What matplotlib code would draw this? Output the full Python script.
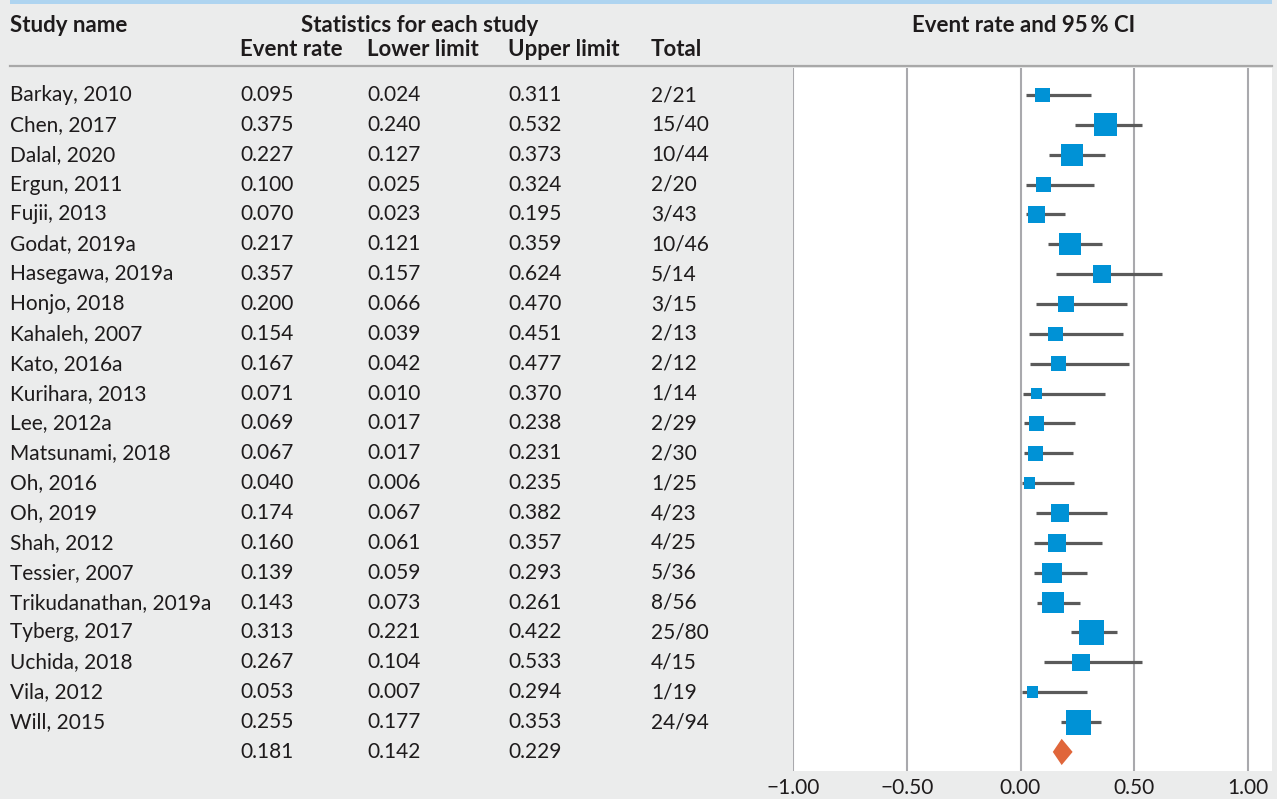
import matplotlib
matplotlib.use("Agg")
import matplotlib.pyplot as plt
import matplotlib.transforms as mtransforms
from matplotlib.patches import Polygon, Rectangle
import numpy as np

studies = ["Barkay, 2010", "Chen, 2017", "Dalal, 2020", "Ergun, 2011", "Fujii, 2013",
           "Godat, 2019a", "Hasegawa, 2019a", "Honjo, 2018", "Kahaleh, 2007", "Kato, 2016a",
           "Kurihara, 2013", "Lee, 2012a", "Matsunami, 2018", "Oh, 2016", "Oh, 2019",
           "Shah, 2012", "Tessier, 2007", "Trikudanathan, 2019a", "Tyberg, 2017",
           "Uchida, 2018", "Vila, 2012", "Will, 2015"]
event_rate = [0.095, 0.375, 0.227, 0.100, 0.070, 0.217, 0.357, 0.200, 0.154, 0.167,
              0.071, 0.069, 0.067, 0.040, 0.174, 0.160, 0.139, 0.143, 0.313, 0.267,
              0.053, 0.255]
lower = [0.024, 0.240, 0.127, 0.025, 0.023, 0.121, 0.157, 0.066, 0.039, 0.042,
         0.010, 0.017, 0.017, 0.006, 0.067, 0.061, 0.059, 0.073, 0.221, 0.104,
         0.007, 0.177]
upper = [0.311, 0.532, 0.373, 0.324, 0.195, 0.359, 0.624, 0.470, 0.451, 0.477,
         0.370, 0.238, 0.231, 0.235, 0.382, 0.357, 0.293, 0.261, 0.422, 0.533,
         0.294, 0.353]
events = [2, 15, 10, 2, 3, 10, 5, 3, 2, 2, 1, 2, 2, 1, 4, 4, 5, 8, 25, 4, 1, 24]
totals = [21, 40, 44, 20, 43, 46, 14, 15, 13, 12, 14, 29, 30, 25, 23, 25, 36, 56, 80,
          15, 19, 94]
pooled = (0.181, 0.142, 0.229)
tick_vals = [-1.0, -0.5, 0.0, 0.5, 1.0]
tick_labels = ["\u22121.00", "\u22120.50", "0.00", "0.50", "1.00"]

W, H = 1277, 799
fig = plt.figure(figsize=(W / 100, H / 100), dpi=100)
BG = "#ebecec"
fig.patch.set_facecolor(BG)

FONT = ["Lato", "DejaVu Sans"]
FS = 15
FSB = 16

def px(x):
    return x / W

def py(y):
    return 1 - y / H

# plot axes in pixel coordinates
ax_l, ax_r, ax_t, ax_b = 793, 1272, 68, 771
ax = fig.add_axes([px(ax_l), py(ax_b), px(ax_r - ax_l), (ax_b - ax_t) / H])
ax.set_facecolor("white")
for s in ax.spines.values():
    s.set_visible(False)

n = len(studies)
row0, row_h = 95, 29.86
ax.set_ylim((ax_b - row0) / row_h, (ax_t - row0) / row_h)
ax.set_xlim(-1.0, -1.0 + (ax_r - ax_l) / 227.5)

for v in tick_vals:
    ax.axvline(v, color="#a9a9ad", lw=1.5, zorder=1)

TXT = "#1e1b1c"
ax.set_xticks(tick_vals)
ax.set_xticklabels(tick_labels, fontsize=FS, family=FONT, color=TXT)
ax.tick_params(axis="x", length=0, pad=5)
ax.set_yticks([])

ys = np.arange(n)
ax.hlines(ys, lower, upper, color="#5a5a5a", lw=2.3, zorder=2)

# square size from study weights (random-effects style, logit scale)
ev = np.array(events, float)
tot = np.array(totals, float)
var = 1 / ev + 1 / (tot - ev)
w = 1 / (var + 0.22)
side_px = 25 * np.sqrt(w / w.max())
ax.scatter(event_rate, ys, marker="s", s=(side_px * 0.72) ** 2, color="#0092d6",
           linewidths=0, zorder=3)

# pooled diamond
est, lo, hi = pooled
yd = n
dh = 0.44
ax.add_patch(Polygon([(lo, yd), (est, yd - dh), (hi, yd), (est, yd + dh)],
                     closed=True, facecolor="#e0663a", edgecolor="none", zorder=3))

# top blue band and header rule
fig.add_artist(Rectangle((px(10), py(3.5)), px(ax_r - 10), 3.5 / H,
                         transform=fig.transFigure, facecolor="#aed4f0",
                         edgecolor="none"))
fig.add_artist(plt.Line2D([px(10), px(ax_r)], [py(66), py(66)],
                          transform=fig.transFigure, color="#a8a8a8", lw=1.6))

def ftext(x, y, s, **kw):
    kw.setdefault("fontsize", FSB)
    kw.setdefault("family", FONT)
    kw.setdefault("color", TXT)
    fig.text(px(x), py(y), s, va="center", **kw)

ftext(10, 25, "Study name", fontweight="bold")
ftext(420, 25, "Statistics for each study", fontweight="bold", ha="center")
ftext(1024, 25, "Event rate and 95\u2009% CI", fontweight="bold", ha="center")
col_x = [240, 367, 508, 651]
for x, h in zip(col_x, ["Event rate", "Lower limit", "Upper limit", "Total"]):
    ftext(x, 50, h, fontweight="bold")

trans = mtransforms.blended_transform_factory(fig.transFigure, ax.transData)
def rtext(x, y, s):
    fig.text(px(x), y, s, transform=trans, va="center", fontsize=FS,
             family=FONT, color=TXT)

for i in range(n):
    rtext(10, i, studies[i])
    rtext(col_x[0], i, f"{event_rate[i]:.3f}")
    rtext(col_x[1], i, f"{lower[i]:.3f}")
    rtext(col_x[2], i, f"{upper[i]:.3f}")
    rtext(col_x[3], i, f"{events[i]}/{totals[i]}")
rtext(col_x[0], n, f"{pooled[0]:.3f}")
rtext(col_x[1], n, f"{pooled[1]:.3f}")
rtext(col_x[2], n, f"{pooled[2]:.3f}")

fig.savefig("out.png", dpi=100, facecolor=BG)
